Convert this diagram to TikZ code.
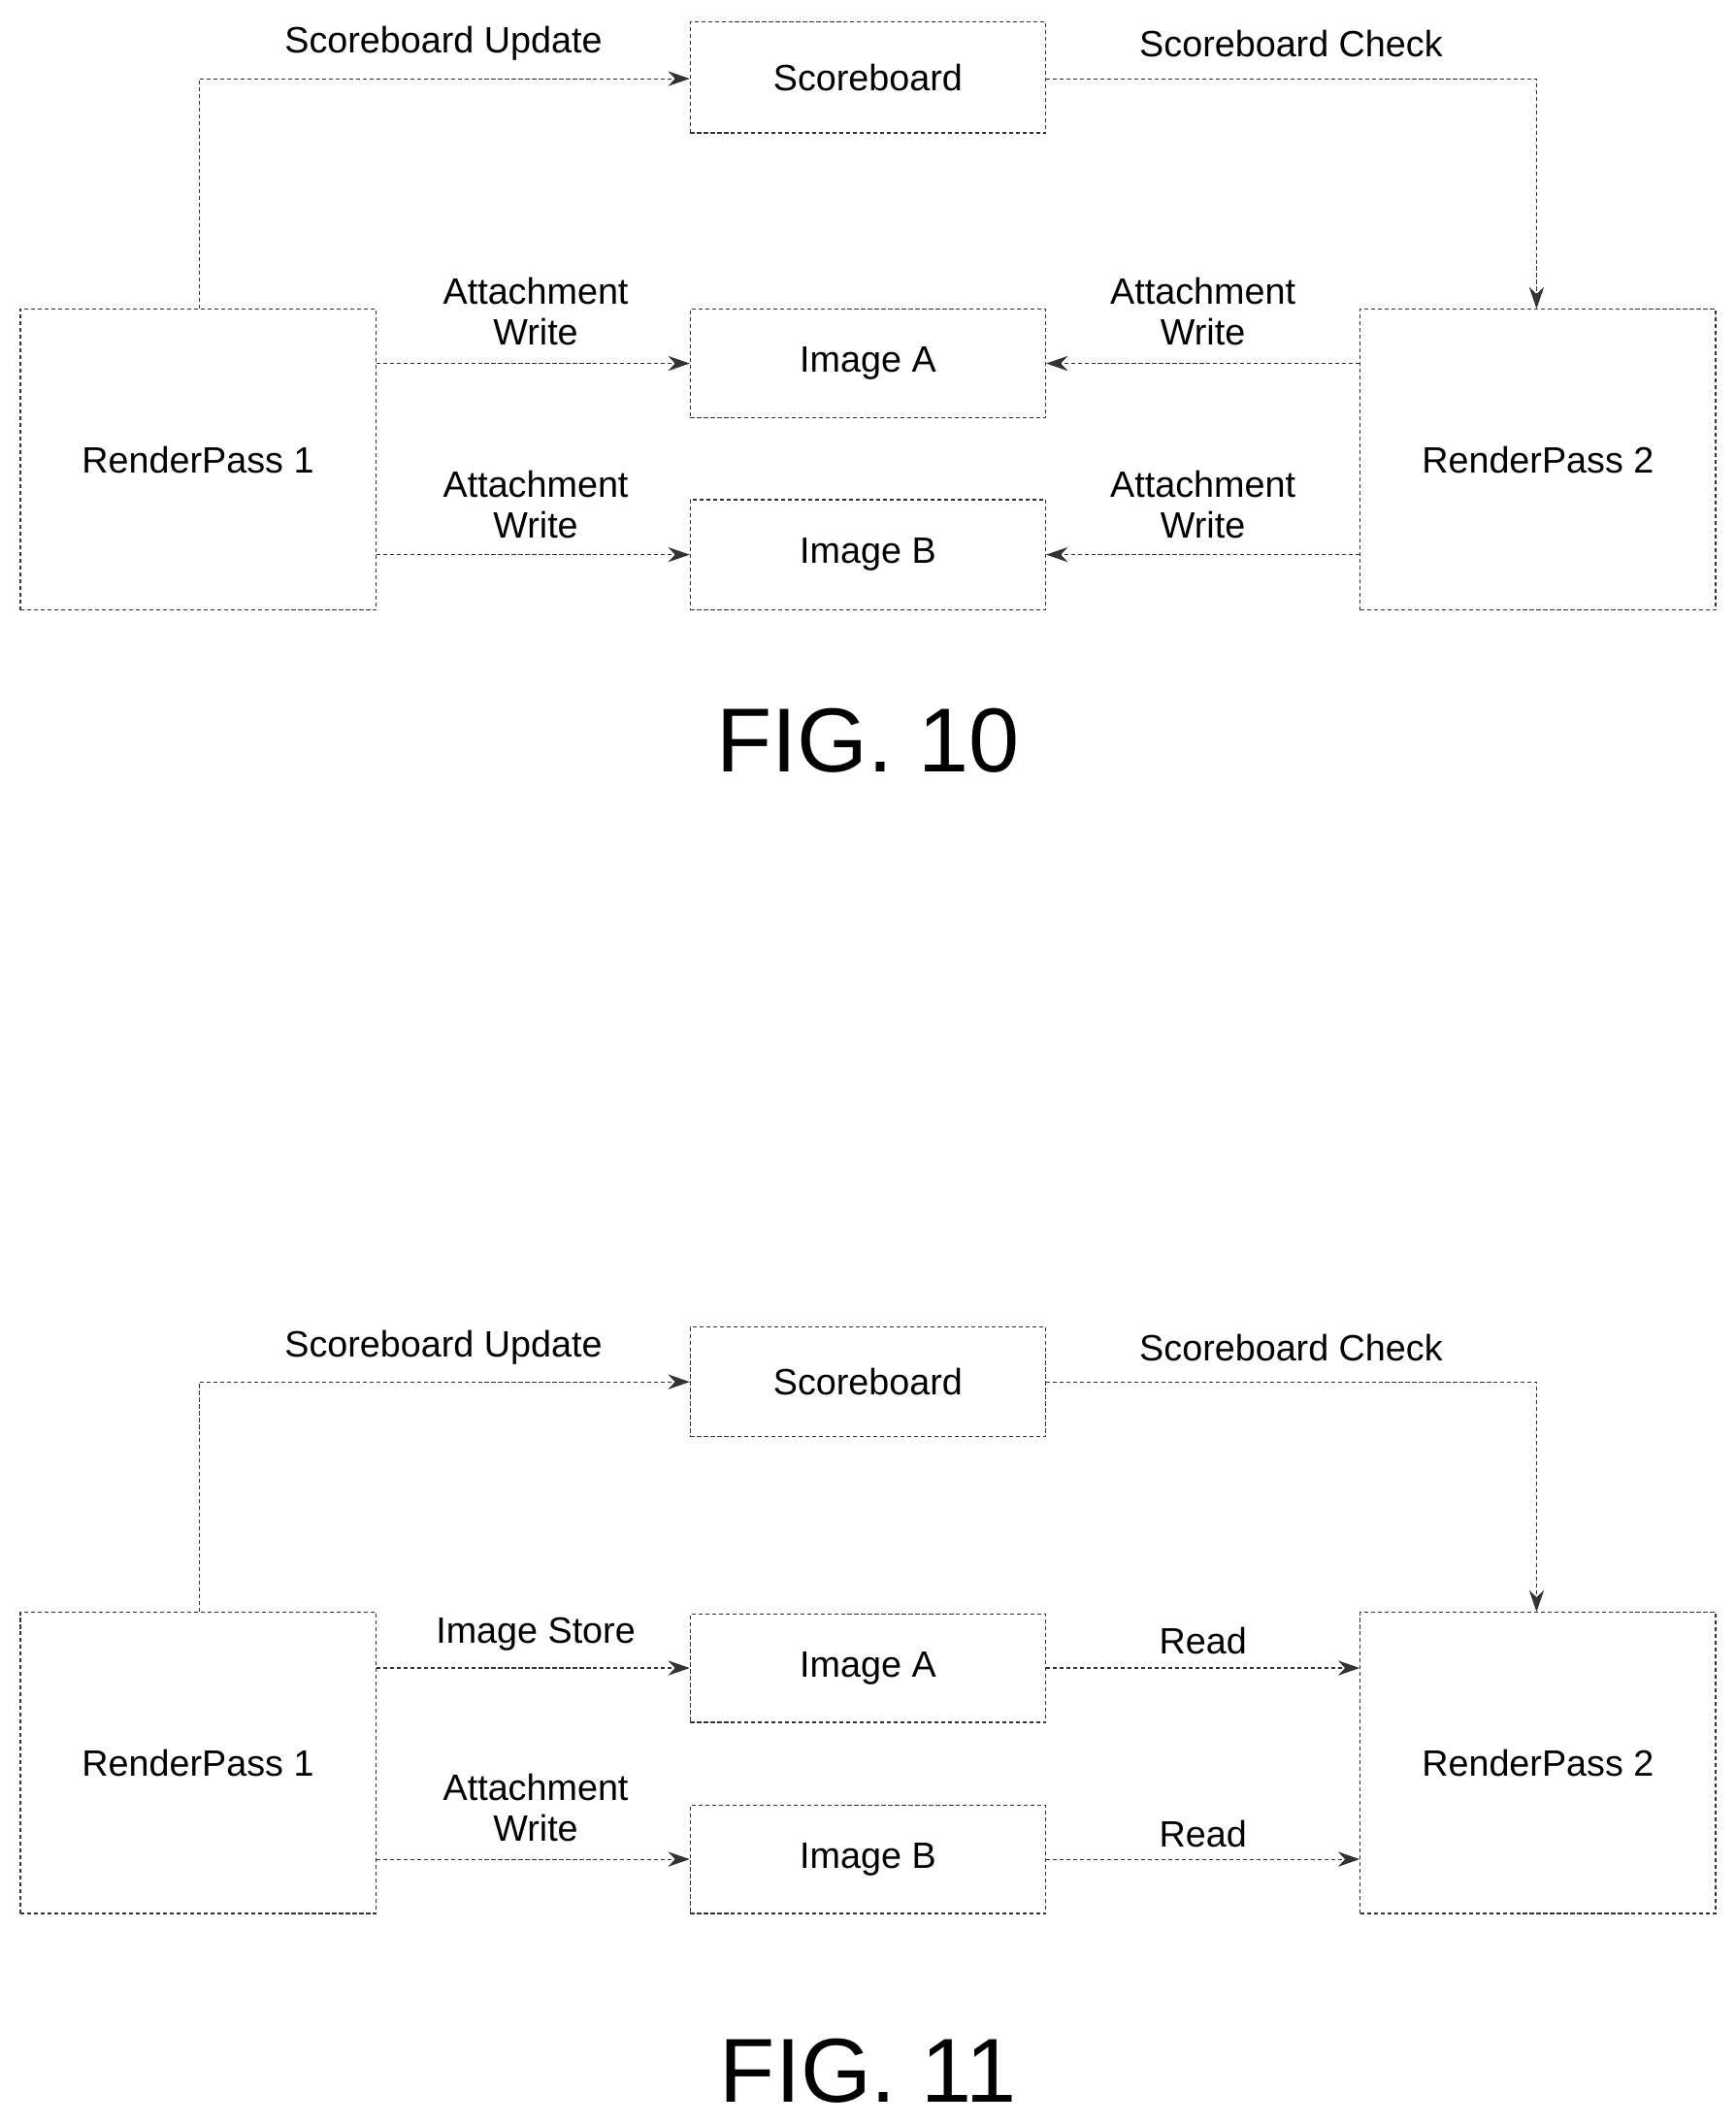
\documentclass[tikz,border=0pt]{standalone}
\usepackage{fontspec}
\setmainfont{Liberation Sans}
\usetikzlibrary{arrows.meta}
\begin{document}
\begin{tikzpicture}[x=1pt,y=-1pt,
  box/.style={draw=black!80,densely dashed,line width=0.8pt,inner sep=0pt,font=\fontsize{27}{30}\selectfont},
  con/.style={draw=black!80,densely dashed,line width=0.8pt,-{Stealth[length=16pt,width=11pt]}},
  lab/.style={font=\fontsize{27}{30}\selectfont,align=center},
  fig/.style={font=\fontsize{67}{72}\selectfont}]
\useasboundingbox (0,0) rectangle (1280,1567);
% FIG 10
\node[box,minimum width=262pt,minimum height=82pt] (sb) at (640,57) {Scoreboard};
\node[box,minimum width=262pt,minimum height=222pt] (rp1) at (146,339) {RenderPass 1};
\node[box,minimum width=262pt,minimum height=222pt] (rp2) at (1134,339) {RenderPass 2};
\node[box,minimum width=262pt,minimum height=80pt] (ia) at (640,268) {Image A};
\node[box,minimum width=262pt,minimum height=81pt] (ib) at (640,409) {Image B};
\coordinate (c1) at (147,58); \coordinate (c2) at (1133,58);
\draw[con] (rp1.north -| c1) -- (c1) -- (sb.west |- c1);
\draw[con] (sb.east |- c2) -- (c2) -- (rp2.north -| c2);
\node[lab] at (327,32) {Scoreboard Update};
\node[lab] at (952,32) {Scoreboard Check};
\draw[con] (rp1.east |- ia) -- (ia.west);
\draw[con] (rp1.east |- ib) -- (ib.west);
\draw[con] (rp2.west |- ia) -- (ia.east);
\draw[con] (rp2.west |- ib) -- (ib.east);
\node[lab] at (395,230) {Attachment\\Write};
\node[lab] at (395,372) {Attachment\\Write};
\node[lab] at (887,230) {Attachment\\Write};
\node[lab] at (887,372) {Attachment\\Write};
\node[fig] (f10) at (640,546) {FIG. 10};
% FIG 11
\node[box,minimum width=262pt,minimum height=81pt] (sb2) at (640,1019) {Scoreboard};
\node[box,minimum width=262pt,minimum height=222pt] (rq1) at (146,1300) {RenderPass 1};
\node[box,minimum width=262pt,minimum height=222pt] (rq2) at (1134,1300) {RenderPass 2};
\node[box,minimum width=262pt,minimum height=80pt] (ja) at (640,1230) {Image A};
\node[box,minimum width=262pt,minimum height=80pt] (jb) at (640,1371) {Image B};
\coordinate (d1) at (147,1019); \coordinate (d2) at (1133,1019);
\draw[con] (rq1.north -| d1) -- (d1) -- (sb2.west |- d1);
\draw[con] (sb2.east |- d2) -- (d2) -- (rq2.north -| d2);
\node[lab] at (327,994) {Scoreboard Update};
\node[lab] at (952,994) {Scoreboard Check};
\draw[con] (rq1.east |- ja) -- (ja.west);
\draw[con] (rq1.east |- jb) -- (jb.west);
\draw[con] (ja.east) -- (rq2.west |- ja);
\draw[con] (jb.east) -- (rq2.west |- jb);
\node[lab] at (395,1205) {Image Store};
\node[lab] at (395,1333) {Attachment\\Write};
\node[lab] at (887,1210) {Read};
\node[lab] at (887,1352) {Read};
\node[fig] (f11) at (640,1527) {FIG. 11};
\end{tikzpicture}
\end{document}
